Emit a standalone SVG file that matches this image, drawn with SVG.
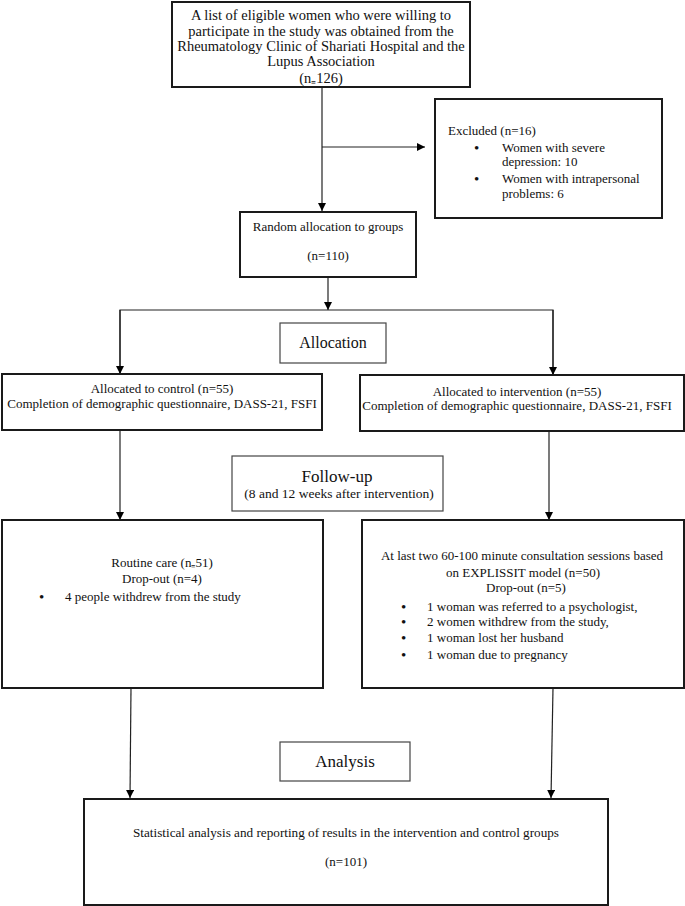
<svg xmlns="http://www.w3.org/2000/svg" width="685" height="906" viewBox="0 0 685 906">
<defs>
<marker id="ah" viewBox="0 0 10 10" refX="10" refY="5" markerWidth="8" markerHeight="8" markerUnits="userSpaceOnUse" orient="auto">
<path d="M0,0 L10,5 L0,10 Z" fill="#000"/>
</marker>
<style>
.box{fill:#fff;stroke:#1a1a1a;stroke-width:2}
.lbl{fill:#fff;stroke:#444;stroke-width:1.2}
text{font-family:"Liberation Serif","Times New Roman",serif;font-size:13px;fill:#111}
.c{text-anchor:middle}
.big{font-size:17px}
.top{font-size:14.5px}
.b{font-size:15px}
.con{stroke:#222;stroke-width:1.2;fill:none;marker-end:url(#ah)}
.ln{stroke:#222;stroke-width:1.2;fill:none}
</style>
</defs>
<rect width="685" height="906" fill="#fff"/>
<g id="connectors">
<line class="con" x1="322" y1="87" x2="322" y2="211"/>
<line class="con" x1="322" y1="147" x2="425" y2="147"/>
<line class="con" x1="328" y1="277" x2="328" y2="310"/>
<polyline class="ln" points="120,374 120,310 553,310 553,374"/>
<line class="con" x1="120" y1="310" x2="120" y2="374"/>
<line class="con" x1="553" y1="310" x2="553" y2="375"/>
<line class="con" x1="120" y1="430" x2="120" y2="520"/>
<line class="con" x1="549" y1="431" x2="549" y2="520"/>
<line class="con" x1="131" y1="688" x2="130" y2="798"/>
<line class="con" x1="553" y1="688" x2="551" y2="798"/>
</g>
<g id="n_list">
<rect class="box" x="172" y="2" width="298" height="85"/>
<text class="c top" x="321" y="20">A list of eligible women who were willing to</text>
<text class="c top" x="321" y="36">participate in the study was obtained from the</text>
<text class="c top" x="321" y="51">Rheumatology Clinic of Shariati Hospital and the</text>
<text class="c top" x="321" y="66">Lupus Association</text>
<text class="c top" x="321" y="83">(n₌126)</text>
</g>
<g id="n_excluded">
<rect class="box" x="435" y="99" width="227" height="119"/>
<text x="448" y="135">Excluded (n=16)</text>
<text class="b" x="474" y="153">•</text>
<text x="502" y="152">Women with severe</text>
<text x="502" y="166">depression: 10</text>
<text class="b" x="474" y="184">•</text>
<text x="502" y="183">Women with intrapersonal</text>
<text x="502" y="198">problems: 6</text>
</g>
<g id="n_random">
<rect class="box" x="240" y="212" width="176" height="65"/>
<text class="c" x="328" y="231">Random allocation to groups</text>
<text class="c" x="328" y="260">(n=110)</text>
</g>
<g id="n_allocation">
<rect class="lbl" x="280" y="323" width="106" height="40"/>
<text class="c big" x="333" y="348" style="font-size:16px">Allocation</text>
</g>
<g id="n_control">
<rect class="box" x="2" y="374" width="320" height="56"/>
<text class="c" x="162" y="393">Allocated to control (n=55)</text>
<text class="c" x="162" y="408">Completion of demographic questionnaire, DASS-21, FSFI</text>
</g>
<g id="n_intervention">
<rect class="box" x="360" y="375" width="324" height="56"/>
<text class="c" x="517" y="396">Allocated to intervention (n=55)</text>
<text class="c" x="517" y="410">Completion of demographic questionnaire, DASS-21, FSFI</text>
</g>
<g id="n_followup">
<rect class="lbl" x="232" y="456" width="211" height="55"/>
<text class="c big" x="337" y="482">Follow-up</text>
<text class="c" x="339" y="498" style="font-size:13.5px">(8 and 12 weeks after intervention)</text>
</g>
<g id="n_routine">
<rect class="box" x="2" y="520" width="321" height="168"/>
<text class="c" x="162" y="567">Routine care (n₌51)</text>
<text class="c" x="162" y="583">Drop-out (n=4)</text>
<text class="b" x="39" y="602">•</text>
<text x="65" y="601">4 people withdrew from the study</text>
</g>
<g id="n_sessions">
<rect class="box" x="362" y="520" width="322" height="168"/>
<text class="c" x="522" y="560">At last two 60-100 minute consultation sessions based</text>
<text class="c" x="523" y="577">on EXPLISSIT model (n=50)</text>
<text class="c" x="526" y="592">Drop-out (n=5)</text>
<text class="b" x="401" y="612">•</text>
<text x="427" y="611">1 woman was referred to a psychologist,</text>
<text class="b" x="401" y="627">•</text>
<text x="427" y="626">2 women withdrew from the study,</text>
<text class="b" x="401" y="643">•</text>
<text x="427" y="642">1 woman lost her husband</text>
<text class="b" x="401" y="660">•</text>
<text x="427" y="659">1 woman due to pregnancy</text>
</g>
<g id="n_analysis">
<rect class="lbl" x="280" y="742" width="130" height="39"/>
<text class="c big" x="345" y="767">Analysis</text>
</g>
<g id="n_results">
<rect class="box" x="84" y="799" width="524" height="106"/>
<text class="c" x="346" y="837" textLength="426" lengthAdjust="spacingAndGlyphs">Statistical analysis and reporting of results in the intervention and control groups</text>
<text class="c" x="346" y="866">(n=101)</text>
</g>
</svg>
